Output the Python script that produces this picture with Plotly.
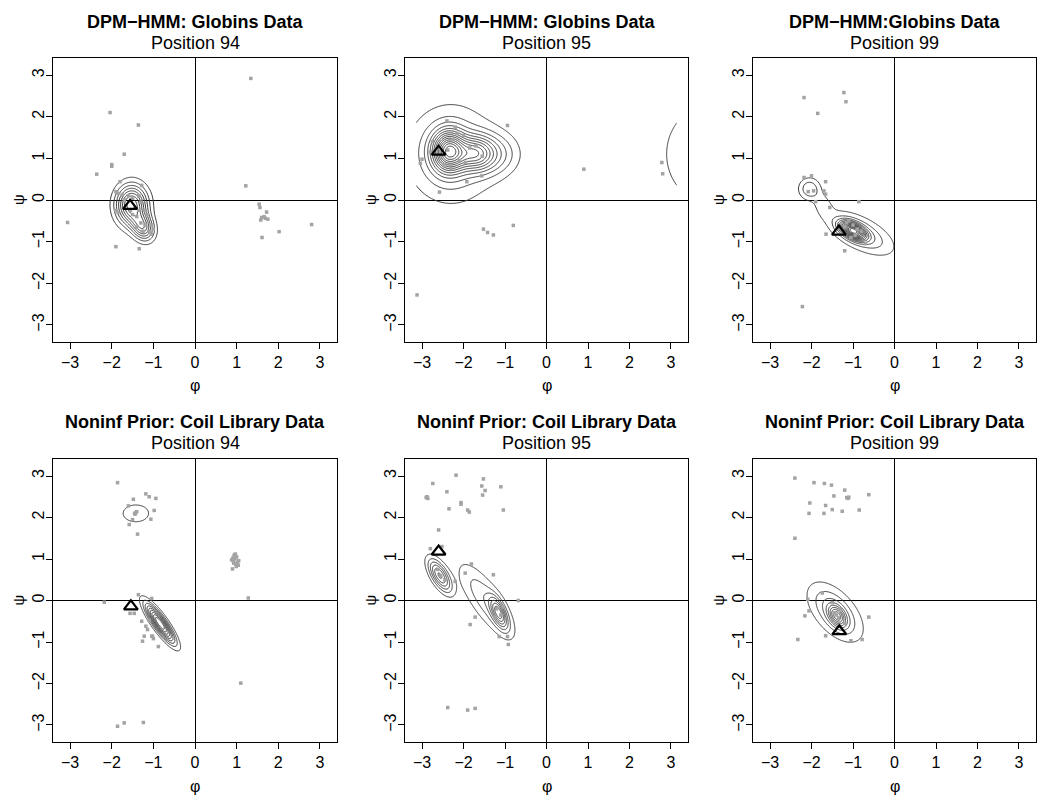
import numpy as np
import plotly.graph_objects as go

# ---------------- data ----------------
titles = ["DPM\u2212HMM: Globins Data", "DPM\u2212HMM: Globins Data", "DPM\u2212HMM:Globins Data",
          "Noninf Prior: Coil Library Data", "Noninf Prior: Coil Library Data", "Noninf Prior: Coil Library Data"]
subtitles = ["Position 94", "Position 95", "Position 99", "Position 94", "Position 95", "Position 99"]
tick_vals = [-3, -2, -1, 0, 1, 2, 3]
tick_text = ["\u22123", "\u22122", "\u22121", "0", "1", "2", "3"]

# observed (phi, psi) points per panel
phi1 = [1.34, -2.04, -1.36, -1.70, -2.0, -2.0, -2.36, -3.06, -1.90, -1.34, 1.22, 1.54, 1.56, 1.72, 1.60, 1.66, 1.69, 1.58, 1.75,
        1.61, 2.02, 2.80, -1.80, -1.28, -1.90, -1.85, -1.75, -1.60, -1.50, -1.35, -1.30, -1.45, -1.35, -1.55, -1.50, -1.40,
        -1.20, -1.15, -1.90, -1.85, -1.30, -1.20, -1.05, -1.00, -1.10, -1.05, -1.25, -1.40, -1.70]
psi1 = [2.92, 2.10, 1.80, 1.10, 0.85, 0.81, 0.62, -0.54, -1.12, -1.17, 0.34, -0.10, -0.18, -0.29, -0.42, -0.40, -0.44, -0.48, -0.46,
        -0.90, -0.76, -0.59, 0.44, 0.35, 0.20, 0.16, 0.12, 0.10, 0.05, 0.10, -0.05, -0.20, -0.25, -0.25, -0.35, -0.40,
        -0.25, -0.35, -0.25, -0.30, -0.55, -0.60, -0.60, -0.70, -0.75, -0.82, -0.75, -0.65, 0.00]

phi2 = [-0.94, 0.90, 2.78, 2.80, -1.52, -1.42, -1.28, -0.80, -3.12, -2.58, -1.56, -1.92, -3.04, -3.00, -2.40, -2.38, -2.20,
        -2.00, -2.75, -2.60, -2.30, -2.10, -1.85, -1.70, -1.55, -2.45, -2.25, -1.95, -2.80, -2.15]
psi2 = [1.79, 0.74, 0.90, 0.63, -0.70, -0.78, -0.84, -0.61, -2.28, 0.19, 0.58, 0.44, 0.88, 0.98, 1.90, 1.20, 1.75,
        1.55, 1.40, 1.30, 0.75, 0.95, 1.25, 1.30, 1.05, 0.85, 1.45, 0.90, 1.15, 1.60]

phi3 = [-2.18, -1.22, -1.17, -1.85, -2.22, -2.18, -2.0, -1.66, -1.70, -1.66, -1.90, -1.56, -0.86, -1.65, -1.20, -2.08, -1.95,
        -1.10, -1.00, -0.90, -0.80, -1.20, -1.05, -0.70, -0.95, -1.15]
psi3 = [2.46, 2.58, 2.36, 2.08, -2.56, 0.54, 0.58, 0.44, 0.22, 0.14, -0.04, -0.18, -0.04, -0.82, -1.22, 0.20, 0.22,
        -0.50, -0.60, -0.70, -0.75, -0.65, -0.90, -1.05, -0.85, -0.55]

phi4 = [-1.86, -1.18, -1.10, -0.94, -1.48, -1.42, -1.44, -1.40, -1.45, -1.60, -0.98, -1.06, -1.58, -1.50, -1.38, -1.36, -1.04,
        -1.56, -1.46, -1.28, -1.18, -1.22, -1.04, -2.18, -1.26, -1.02, -1.00, -0.88, -1.14, -1.10,
        0.90, 0.95, 1.00, 0.92, 0.98, 1.02, 0.88, 0.96, 1.04, 0.94, 0.99, 0.93, 1.05, 0.97, 0.91, 1.28, 1.10, -1.86, -1.70, -1.24]
psi4 = [2.84, 2.57, 2.50, 2.46, 2.44, 2.12, 2.08, 2.14, 2.10, 2.28, 2.17, 1.96, 1.83, 1.95, 1.60, 0.14, 0.05,
        -0.31, -0.31, -0.50, -0.62, -0.86, -0.86, -0.04, -0.98, -0.86, -0.92, -1.11, -0.70, -0.48,
        0.76, 1.10, 1.05, 0.95, 0.88, 0.92, 0.98, 1.00, 0.85, 1.08, 0.82, 0.90, 0.96, 1.12, 1.02, 0.06, -1.99, -3.03, -2.95, -2.94]

phi5 = [-2.18, -2.74, -2.40, -2.88, -2.86, -2.90, -1.52, -1.56, -1.48, -1.54, -1.10, -2.35, -2.06, -2.06, -1.90, -1.86, -1.04,
        -2.60, -2.80, -2.52, -1.96, -1.81, -1.28, -2.20, -0.68, -1.72, -1.84, -1.14, -0.94, -0.92, -2.38, -1.90, -1.72,
        -2.62, -2.55, -2.45, -1.20, -1.10, -1.05, -1.25]
psi5 = [3.02, 2.82, 2.62, 2.50, 2.46, 2.48, 2.93, 2.76, 2.65, 2.54, 2.74, 2.21, 2.36, 2.32, 2.18, 2.13, 2.18,
        1.70, 1.25, 1.30, 0.66, 0.88, 0.62, 0.46, 0.00, -0.40, -0.58, -0.87, -0.87, -1.06, -2.58, -2.64, -2.60,
        0.75, 0.60, 0.50, -0.20, -0.35, -0.15, -0.40]

phi6 = [-2.40, -1.94, -1.69, -1.52, -1.20, -1.46, -1.15, -1.12, -1.10, -0.62, -2.04, -1.66, -1.50, -2.06, -1.70, -1.26, -0.85,
        -2.40, -2.33, -0.78, -1.05, -0.62, -2.16, -2.09, -2.06, -1.74, -1.66, -1.40, -1.35, -1.45, -1.30, -1.50, -1.20]
psi6 = [2.95, 2.84, 2.82, 2.78, 2.66, 2.52, 2.48, 2.46, 2.49, 2.55, 2.35, 2.29, 2.19, 2.10, 2.10, 2.15, 2.18,
        1.50, -0.94, -0.94, -0.97, -0.40, -0.37, 0.03, -0.25, 0.18, -0.85, -0.35, -0.42, -0.30, -0.20, -0.05, -0.55]

# reference (native) structure position per panel
tri_phi = [-1.56, -2.60, -1.34, -1.54, -2.60, -1.33]
tri_psi = [-0.14, 1.16, -0.76, -0.14, 1.18, -0.74]

# density mixture components per panel: centre phi, centre psi, sd phi, sd psi, correlation, weight
mix1_mx = [-1.52, -1.25];        mix1_my = [-0.12, -0.65]
mix1_sx = [0.25, 0.18];          mix1_sy = [0.32, 0.22]
mix1_r = [0.0, -0.2];            mix1_w = [0.75, 0.25]

mix2_mx = [-2.35, -1.72, -2.3, -1.3]; mix2_my = [1.17, 1.12, 1.10, 1.10]
mix2_sx = [0.26, 0.28, 0.70, 0.40];   mix2_sy = [0.32, 0.27, 0.76, 0.33]
mix2_r = [0.0, 0.0, 0.0, 0.0];        mix2_w = [0.26, 0.12, 0.50, 0.12]

mix3_mx = [-2.05, -1.72, -1.0, -0.82]; mix3_my = [0.27, -0.12, -0.74, -0.8]
mix3_sx = [0.18, 0.15, 0.2, 0.52];     mix3_sy = [0.18, 0.2, 0.14, 0.34]
mix3_r = [0.0, -0.3, -0.5, -0.6];      mix3_w = [0.11, 0.05, 0.34, 0.55]

mix4_mx = [-1.42, -0.84];        mix4_my = [2.10, -0.55]
mix4_sx = [0.28, 0.23];          mix4_sy = [0.185, 0.31]
mix4_r = [0.0, -0.86];           mix4_w = [0.18, 0.7]

mix5_mx = [-2.57, -1.15, -1.45]; mix5_my = [0.60, -0.30, 0.0]
mix5_sx = [0.19, 0.14, 0.45];    mix5_sy = [0.27, 0.25, 0.6]
mix5_r = [-0.65, -0.6, -0.78];   mix5_w = [0.3, 0.2, 0.6]

mix6_mx = [-1.38, -1.43];        mix6_my = [-0.38, -0.28]
mix6_sx = [0.14, 0.42];          mix6_sy = [0.17, 0.45]
mix6_r = [-0.4, -0.55];          mix6_w = [0.17, 0.83]

n_levels = [9, 15, 15, 10, 8, 9]

# ---------------- build ----------------
points = [(phi1, psi1), (phi2, psi2), (phi3, psi3), (phi4, psi4), (phi5, psi5), (phi6, psi6)]
mixes = [(mix1_mx, mix1_my, mix1_sx, mix1_sy, mix1_r, mix1_w),
         (mix2_mx, mix2_my, mix2_sx, mix2_sy, mix2_r, mix2_w),
         (mix3_mx, mix3_my, mix3_sx, mix3_sy, mix3_r, mix3_w),
         (mix4_mx, mix4_my, mix4_sx, mix4_sy, mix4_r, mix4_w),
         (mix5_mx, mix5_my, mix5_sx, mix5_sy, mix5_r, mix5_w),
         (mix6_mx, mix6_my, mix6_sx, mix6_sy, mix6_r, mix6_w)]

grid = np.linspace(-np.pi, np.pi, 261)
GX, GY = np.meshgrid(grid, grid)


def density(mix):
    z = np.zeros_like(GX)
    for mx, my, sx, sy, r, w in zip(*mix):
        for kx in (-1, 0, 1):
            for ky in (-1, 0, 1):
                dx = (GX - mx - 2 * np.pi * kx) / sx
                dy = (GY - my - 2 * np.pi * ky) / sy
                q = (dx * dx - 2 * r * dx * dy + dy * dy) / (1 - r * r)
                z += w * np.exp(-0.5 * q) / (2 * np.pi * sx * sy * np.sqrt(1 - r * r))
    return z


# page body has an 8px margin: lay out in window pixels, convert to figure pixels
OFF = 8
W, H = 1050 - 2 * OFF, 804 - 2 * OFF
xdom_px = [(53, 337), (405, 688), (753, 1036)]
ydom_px = [(58, 342), (459, 742)]


def fx(X):
    return (X - OFF) / W


def fy(Y):
    return 1 - (Y - OFF) / H


fig = go.Figure()
font_family = "Liberation Sans, Arial, Helvetica, sans-serif"
annotations = []
layout = {}

for i in range(6):
    row, col = divmod(i, 3)
    ax = "" if i == 0 else str(i + 1)
    xa, ya = "x" + ax, "y" + ax
    x0, x1 = xdom_px[col]
    y0, y1 = ydom_px[row]
    xd = [fx(x0), fx(x1)]
    yd = [fy(y1), fy(y0)]

    z = density(mixes[i])
    step = z.max() / n_levels[i]
    fig.add_trace(go.Contour(x=grid, y=grid, z=z, xaxis=xa, yaxis=ya, showscale=False,
                             contours=dict(coloring="none", start=step, end=step * (n_levels[i] - 0.5), size=step),
                             line=dict(color="#3c3c3c", width=1), hoverinfo="skip"))
    px, py = points[i]
    fig.add_trace(go.Scatter(x=px, y=py, mode="markers", xaxis=xa, yaxis=ya,
                             marker=dict(symbol="square", size=3.5, color="#a3a3a3", line=dict(width=0))))
    fig.add_trace(go.Scatter(x=[tri_phi[i]], y=[tri_psi[i]], mode="markers", xaxis=xa, yaxis=ya,
                             marker=dict(symbol="triangle-up-open", size=12, color="black", line=dict(width=2.2, color="black"))))

    common = dict(range=[-3.41, 3.41], tickvals=tick_vals, ticktext=tick_text, showline=True, mirror=True,
                  linecolor="black", linewidth=1, ticks="outside", ticklen=6, tickcolor="black", tickwidth=1,
                  showgrid=False, zeroline=True, zerolinecolor="black", zerolinewidth=1,
                  tickfont=dict(size=16, color="black", family=font_family), fixedrange=True)
    layout["xaxis" + ax] = dict(domain=xd, anchor=ya, **common)
    layout["yaxis" + ax] = dict(domain=yd, anchor=xa, tickangle=-90, ticklabelstandoff=-4, **common)

    cx = fx((x0 + x1) / 2)
    ty = [22, 422][row]
    annotations.append(dict(x=cx, y=fy(ty), xref="paper", yref="paper", text="<b>" + titles[i] + "</b>",
                            showarrow=False, font=dict(size=18, color="black", family=font_family),
                            xanchor="center", yanchor="middle"))
    annotations.append(dict(x=cx, y=fy(ty + 21), xref="paper", yref="paper", text=subtitles[i],
                            showarrow=False, font=dict(size=18, color="black", family=font_family),
                            xanchor="center", yanchor="middle"))
    annotations.append(dict(x=cx, y=fy(y1 + 44), xref="paper", yref="paper", text="\u03c6",
                            showarrow=False, font=dict(size=16, color="black", family=font_family),
                            xanchor="center", yanchor="middle"))
    annotations.append(dict(x=fx(x0 - 35), y=fy((y0 + y1) / 2), xref="paper", yref="paper", text="\u03c8",
                            showarrow=False, textangle=-90, font=dict(size=15, color="black", family=font_family),
                            xanchor="center", yanchor="middle"))

fig.update_layout(width=W, height=H, margin=dict(l=0, r=0, t=0, b=0), showlegend=False,
                  paper_bgcolor="white", plot_bgcolor="white", annotations=annotations,
                  font=dict(family=font_family, color="black"), **layout)

fig.write_html("out.html")
